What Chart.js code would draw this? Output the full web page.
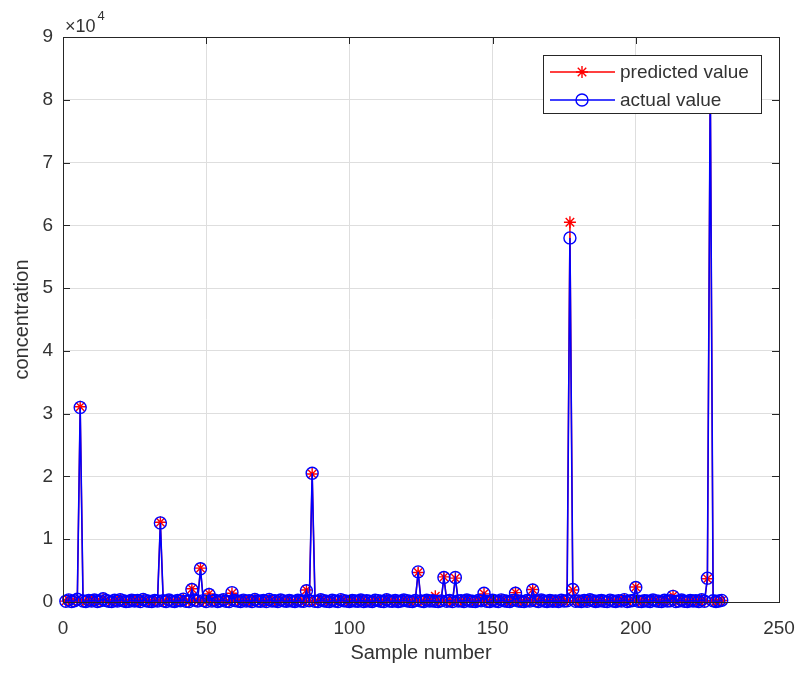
<!DOCTYPE html>
<html>
<head>
<meta charset="utf-8">
<script src="https://cdn.jsdelivr.net/npm/chart.js@4/dist/chart.umd.min.js"></script>
<style>
  body { margin: 0; background: #fff; }
  canvas { display: block; }
</style>
</head>
<body>
<canvas id="chart" width="801" height="677"></canvas>
<script>
// measured concentration, samples 1..230
const actualValue = [
  120, 340, 80, 210, 450, 31000, 160, 90, 260, 140,
  310, 70, 180, 520, 230, 110, 60, 290, 150, 380,
  200, 90, 130, 300, 170, 240, 60, 410, 190, 120,
  80, 260, 150, 12600, 210, 90, 330, 140, 70, 250,
  180, 460, 120, 60, 2000, 310, 150, 5300, 220, 90,
  1200, 140, 280, 70, 190, 350, 110, 60, 1500, 230,
  160, 90, 300, 140, 220, 80, 410, 170, 120, 260,
  90, 400, 150, 210, 60, 330, 180, 100, 240, 140,
  70, 290, 160, 110, 1800, 200, 20500, 130, 80, 350,
  190, 120, 60, 270, 150, 90, 380, 210, 140, 70,
  250, 170, 110, 320, 80, 190, 140, 60, 280, 220,
  130, 90, 360, 170, 100, 240, 70, 150, 310, 190,
  120, 60, 230, 4800, 160, 90, 270, 140, 200, 100,
  80, 180, 3900, 130, 250, 70, 3900, 150, 210, 90,
  320, 160, 110, 60, 240, 180, 1400, 130, 90, 270,
  150, 70, 340, 200, 120, 80, 260, 1400, 170, 110,
  60, 230, 140, 1900, 190, 90, 310, 150, 70, 250,
  120, 180, 60, 290, 140, 210, 58000, 2000, 100, 170,
  80, 260, 130, 350, 190, 70, 150, 240, 110, 60,
  300, 170, 90, 220, 140, 380, 80, 160, 250, 2300,
  130, 70, 210, 150, 90, 330, 180, 110, 60, 270,
  140, 200, 900, 80, 160, 310, 120, 70, 240, 150,
  190, 90, 360, 130, 3800, 83000, 210, 80, 150, 260
];

// model output for the same samples
const predictedValue = [
  140, 320, 100, 230, 430, 31100, 150, 110, 240, 160,
  290, 90, 200, 500, 250, 130, 80, 270, 170, 360,
  220, 110, 150, 320, 150, 260, 80, 390, 210, 140,
  100, 240, 170, 12700, 190, 110, 310, 160, 90, 230,
  200, 440, 140, 80, 2100, 290, 170, 5400, 200, 110,
  1300, 160, 260, 90, 210, 330, 130, 80, 1400, 250,
  180, 110, 280, 160, 200, 100, 390, 190, 140, 240,
  110, 380, 170, 190, 80, 310, 200, 120, 220, 160,
  90, 270, 180, 130, 1900, 220, 20400, 150, 100, 330,
  210, 140, 80, 250, 170, 110, 360, 230, 160, 90,
  230, 190, 130, 300, 100, 210, 160, 80, 260, 240,
  150, 110, 340, 190, 120, 220, 90, 170, 290, 210,
  140, 80, 250, 4700, 180, 110, 250, 160, 220, 900,
  100, 200, 4000, 150, 230, 90, 3800, 170, 190, 110,
  300, 180, 130, 80, 220, 200, 1300, 150, 110, 250,
  170, 90, 320, 220, 140, 100, 240, 1500, 190, 130,
  80, 250, 160, 2000, 210, 110, 290, 170, 90, 230,
  140, 200, 80, 270, 160, 230, 60500, 1900, 120, 190,
  100, 240, 150, 330, 210, 90, 170, 220, 130, 80,
  280, 190, 110, 240, 160, 360, 100, 180, 230, 2400,
  150, 90, 230, 170, 110, 310, 200, 130, 80, 250,
  160, 220, 1000, 100, 180, 290, 140, 90, 220, 170,
  210, 110, 340, 150, 3700, 83200, 190, 100, 170, 240
];

const seriesNames = ['predicted value', 'actual value'];
const xTicks = [0, 50, 100, 150, 200, 250];
const yTicks = [0, 1, 2, 3, 4, 5, 6, 7, 8, 9]; // in units of 10^4

const textColor = '#333333';
const axisColor = '#262626';
const fontFamily = '"Liberation Sans", Arial, sans-serif';

function toPoints(values) {
  return values.map((v, i) => ({ x: i + 1, y: v }));
}

// box, inward tick marks, exponent label and legend, MATLAB style
const axesDecor = {
  id: 'axesDecor',
  afterDatasetsDraw(chart) {
    const { ctx, chartArea: a, scales } = chart;
    ctx.save();
    ctx.strokeStyle = axisColor;
    ctx.lineWidth = 1;
    ctx.strokeRect(a.left + 0.5, a.top + 0.5, a.right - a.left, a.bottom - a.top);

    const tl = 7;
    ctx.beginPath();
    xTicks.forEach(t => {
      const px = Math.round(scales.x.getPixelForValue(t)) + 0.5;
      ctx.moveTo(px, a.bottom); ctx.lineTo(px, a.bottom - tl);
      ctx.moveTo(px, a.top); ctx.lineTo(px, a.top + tl);
    });
    yTicks.forEach(t => {
      const py = Math.round(scales.y.getPixelForValue(t * 10000)) + 0.5;
      ctx.moveTo(a.left, py); ctx.lineTo(a.left + tl, py);
      ctx.moveTo(a.right, py); ctx.lineTo(a.right - tl, py);
    });
    ctx.stroke();

    // ×10^4
    ctx.fillStyle = textColor;
    ctx.textBaseline = 'alphabetic';
    ctx.textAlign = 'left';
    ctx.font = '18px ' + fontFamily;
    ctx.fillText('\u00d710', a.left + 2, a.top - 5);
    const w = ctx.measureText('\u00d710').width;
    ctx.font = '13px ' + fontFamily;
    ctx.fillText('4', a.left + 4 + w, a.top - 17);

    // legend
    const lx = 543, ly = 55, lw = 218, lh = 58;
    ctx.fillStyle = '#ffffff';
    ctx.fillRect(lx, ly, lw, lh);
    ctx.strokeStyle = axisColor;
    ctx.lineWidth = 1;
    ctx.strokeRect(lx + 0.5, ly + 0.5, lw, lh);
    const rows = [
      { y: ly + 17, color: '#ff0000', marker: 'star', label: seriesNames[0] },
      { y: ly + 45, color: '#0000ff', marker: 'circle', label: seriesNames[1] }
    ];
    rows.forEach(r => {
      ctx.strokeStyle = r.color;
      ctx.lineWidth = 1.4;
      ctx.beginPath();
      ctx.moveTo(lx + 7, r.y); ctx.lineTo(lx + 72, r.y);
      ctx.stroke();
      const mx = lx + 39, rad = 6;
      ctx.beginPath();
      if (r.marker === 'circle') {
        ctx.arc(mx, r.y, rad, 0, Math.PI * 2);
      } else {
        for (let k = 0; k < 4; k++) {
          const ang = k * Math.PI / 4;
          ctx.moveTo(mx - rad * Math.cos(ang), r.y - rad * Math.sin(ang));
          ctx.lineTo(mx + rad * Math.cos(ang), r.y + rad * Math.sin(ang));
        }
      }
      ctx.stroke();
      ctx.fillStyle = textColor;
      ctx.font = '19px ' + fontFamily;
      ctx.textBaseline = 'middle';
      ctx.fillText(r.label, lx + 77, r.y + 1);
    });
    ctx.restore();
  }
};

new Chart(document.getElementById('chart').getContext('2d'), {
  type: 'line',
  data: {
    datasets: [
      {
        label: seriesNames[1],
        data: toPoints(actualValue),
        borderColor: '#0000ff',
        borderWidth: 1.6,
        pointStyle: 'circle',
        pointRadius: 6,
        pointBorderColor: '#0000ff',
        pointBackgroundColor: 'rgba(0,0,0,0)',
        pointBorderWidth: 1.4,
        tension: 0,
        clip: false
      },
      {
        label: seriesNames[0],
        data: toPoints(predictedValue),
        borderColor: '#ff0000',
        borderWidth: 1.4,
        pointStyle: 'star',
        pointRadius: 6,
        pointBorderColor: '#ff0000',
        pointBorderWidth: 1.4,
        tension: 0,
        clip: false
      }
    ]
  },
  options: {
    responsive: false,
    animation: false,
    events: [],
    layout: { padding: { top: 37, right: 22, left: 0, bottom: 0 } },
    plugins: { legend: { display: false }, tooltip: { enabled: false } },
    scales: {
      x: {
        type: 'linear',
        min: 0,
        max: 250,
        afterBuildTicks: s => { s.ticks = xTicks.map(v => ({ value: v })); },
        ticks: { color: textColor, font: { family: fontFamily, size: 19 }, padding: 15, maxRotation: 0 },
        grid: { color: '#dedede', drawTicks: false },
        border: { display: false },
        title: { display: true, text: 'Sample number', color: textColor,
                 font: { family: fontFamily, size: 20 }, padding: { bottom: 12 } },
        afterFit: s => { s.height = 75; s.paddingLeft = 0; s.paddingRight = 0; }
      },
      y: {
        min: 0,
        max: 90000,
        afterBuildTicks: s => { s.ticks = yTicks.map(v => ({ value: v * 10000 })); },
        ticks: { color: textColor, font: { family: fontFamily, size: 19 }, padding: 10,
                 callback: v => String(v / 10000) },
        grid: { color: '#dedede', drawTicks: false },
        border: { display: false },
        title: { display: true, text: 'concentration', color: textColor,
                 font: { family: fontFamily, size: 20 }, padding: { top: 10 } },
        afterFit: s => { s.width = 63; s.paddingTop = 0; s.paddingBottom = 0; }
      }
    }
  },
  plugins: [axesDecor]
});
</script>
</body>
</html>
